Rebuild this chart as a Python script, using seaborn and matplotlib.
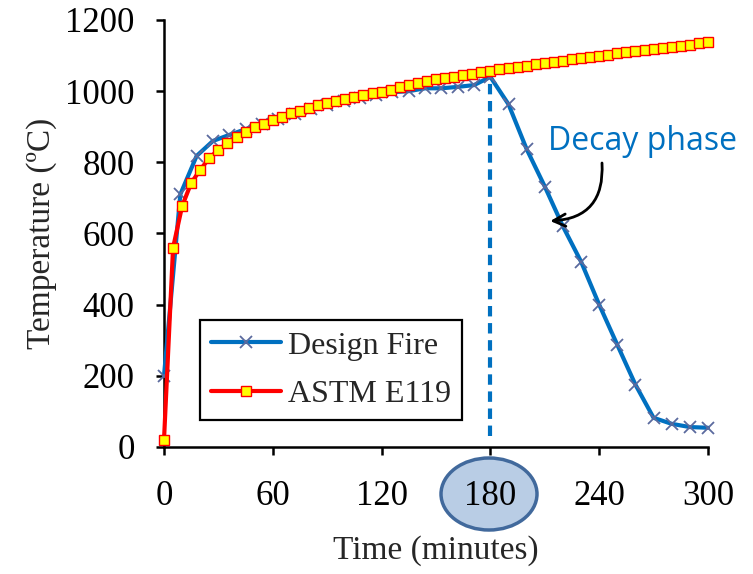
import matplotlib
matplotlib.use('Agg')
import matplotlib.pyplot as plt
from matplotlib.patches import Ellipse
import pandas as pd
import seaborn as sns

# Design fire (minutes, deg C)
fire_time = [0, 9, 18, 27, 36, 45, 54, 63, 72, 81, 90, 99, 108, 117, 126, 135, 144,
             153, 162, 171, 180, 190, 200, 210, 220, 230, 240, 250, 260, 270, 280, 290, 300]
fire_temp = [200, 710, 818, 860, 877, 893, 908, 922, 937, 950, 962, 972, 982, 990, 997,
             1000, 1008, 1008, 1012, 1017, 1040, 963, 837, 732, 620, 521, 400, 287, 175,
             82, 65, 56, 54]

# ASTM E119 standard curve, every 5 minutes
astm_time = list(range(0, 301, 5))
astm_temp = [20, 560, 677, 742, 779, 812, 835, 854, 871, 885, 899, 908, 919, 927, 939,
             944, 953, 961, 967, 972, 978, 984, 989, 995, 998, 1003, 1012, 1018, 1023,
             1028, 1033, 1037, 1041, 1045, 1049, 1053, 1057, 1061, 1065, 1068, 1072,
             1076, 1079, 1083, 1086, 1090, 1093, 1096, 1099, 1102, 1106, 1109, 1112,
             1115, 1118, 1121, 1124, 1127, 1130, 1134, 1137, 1140][:61]

x_ticks = [0, 60, 120, 180, 240, 300]
y_ticks = [0, 200, 400, 600, 800, 1000, 1200]

fire_df = pd.DataFrame({'Time': fire_time, 'Temp': fire_temp})
astm_df = pd.DataFrame({'Time': astm_time, 'Temp': astm_temp})

sns.set_style('ticks')
plt.rcParams['font.family'] = ['Liberation Serif', 'DejaVu Serif']

fig = plt.figure(figsize=(7.53, 5.74), dpi=100)
ax = fig.add_axes([0.2178, 0.2213, 0.7224, 0.7439])

blue = '#0070C0'
sns.lineplot(data=fire_df, x='Time', y='Temp', ax=ax, color=blue, lw=3,
             marker='x', markersize=9, markeredgecolor='#5B6A9E', markeredgewidth=1.3,
             label='Design Fire', clip_on=False, zorder=3)
sns.lineplot(data=astm_df, x='Time', y='Temp', ax=ax, color='#FF0000', lw=3,
             marker='s', markersize=7, markerfacecolor='#FFFF00', markeredgecolor='#FF0000',
             markeredgewidth=1, label='ASTM E119', clip_on=False, zorder=4)

# dashed line marking end of heating at 180 min
ax.plot([180, 180], [30, fire_temp[fire_time.index(180)]], color=blue, lw=3,
        ls=(0, (2.5, 1.6)), zorder=2)

ax.set_xlim(0, 300)
ax.set_ylim(0, 1200)
ax.set_xticks(x_ticks)
ax.set_yticks(y_ticks)
ax.tick_params(axis='both', labelsize=25, width=1.8, length=6, colors='black')
ax.tick_params(axis='x', pad=18)
ax.tick_params(axis='y', pad=15)
for s in ['left', 'bottom']:
    ax.spines[s].set_linewidth(1.8)
    ax.spines[s].set_color('black')
sns.despine(ax=ax)

ax.set_xlabel('Time (minutes)', fontsize=24, labelpad=16)
ax.set_ylabel('Temperature (ºC)', fontsize=24, labelpad=6)

leg = ax.legend(loc='upper left', bbox_to_anchor=(200 / 753, 1 - 320 / 574),
                bbox_transform=fig.transFigure, borderaxespad=0, fontsize=23,
                handlelength=2.2, handletextpad=0.2, labelspacing=0.6,
                borderpad=0.35, fancybox=False, framealpha=1)
leg.get_frame().set_edgecolor('black')
leg.get_frame().set_linewidth(1.6)

# highlight the 180 tick label
ell = Ellipse((489 / 753, 1 - 494 / 574), 96 / 753, 72 / 574, transform=fig.transFigure,
              facecolor='#B9CDE5', edgecolor='#41699C', lw=2.5, zorder=-1)
fig.patches.append(ell)

fig.text(642 / 753, 1 - 142 / 574, 'Decay phase', ha='center', va='center',
         fontsize=23, color=blue, family='Open Sans')
ax.annotate('', xy=(213, 635), xytext=(602, 574 - 163), textcoords='figure pixels',
            arrowprops=dict(arrowstyle='->', color='black', lw=2, mutation_scale=22,
                            connectionstyle='arc3,rad=-0.5', shrinkA=0, shrinkB=0))

fig.savefig('out.png', dpi=100)
